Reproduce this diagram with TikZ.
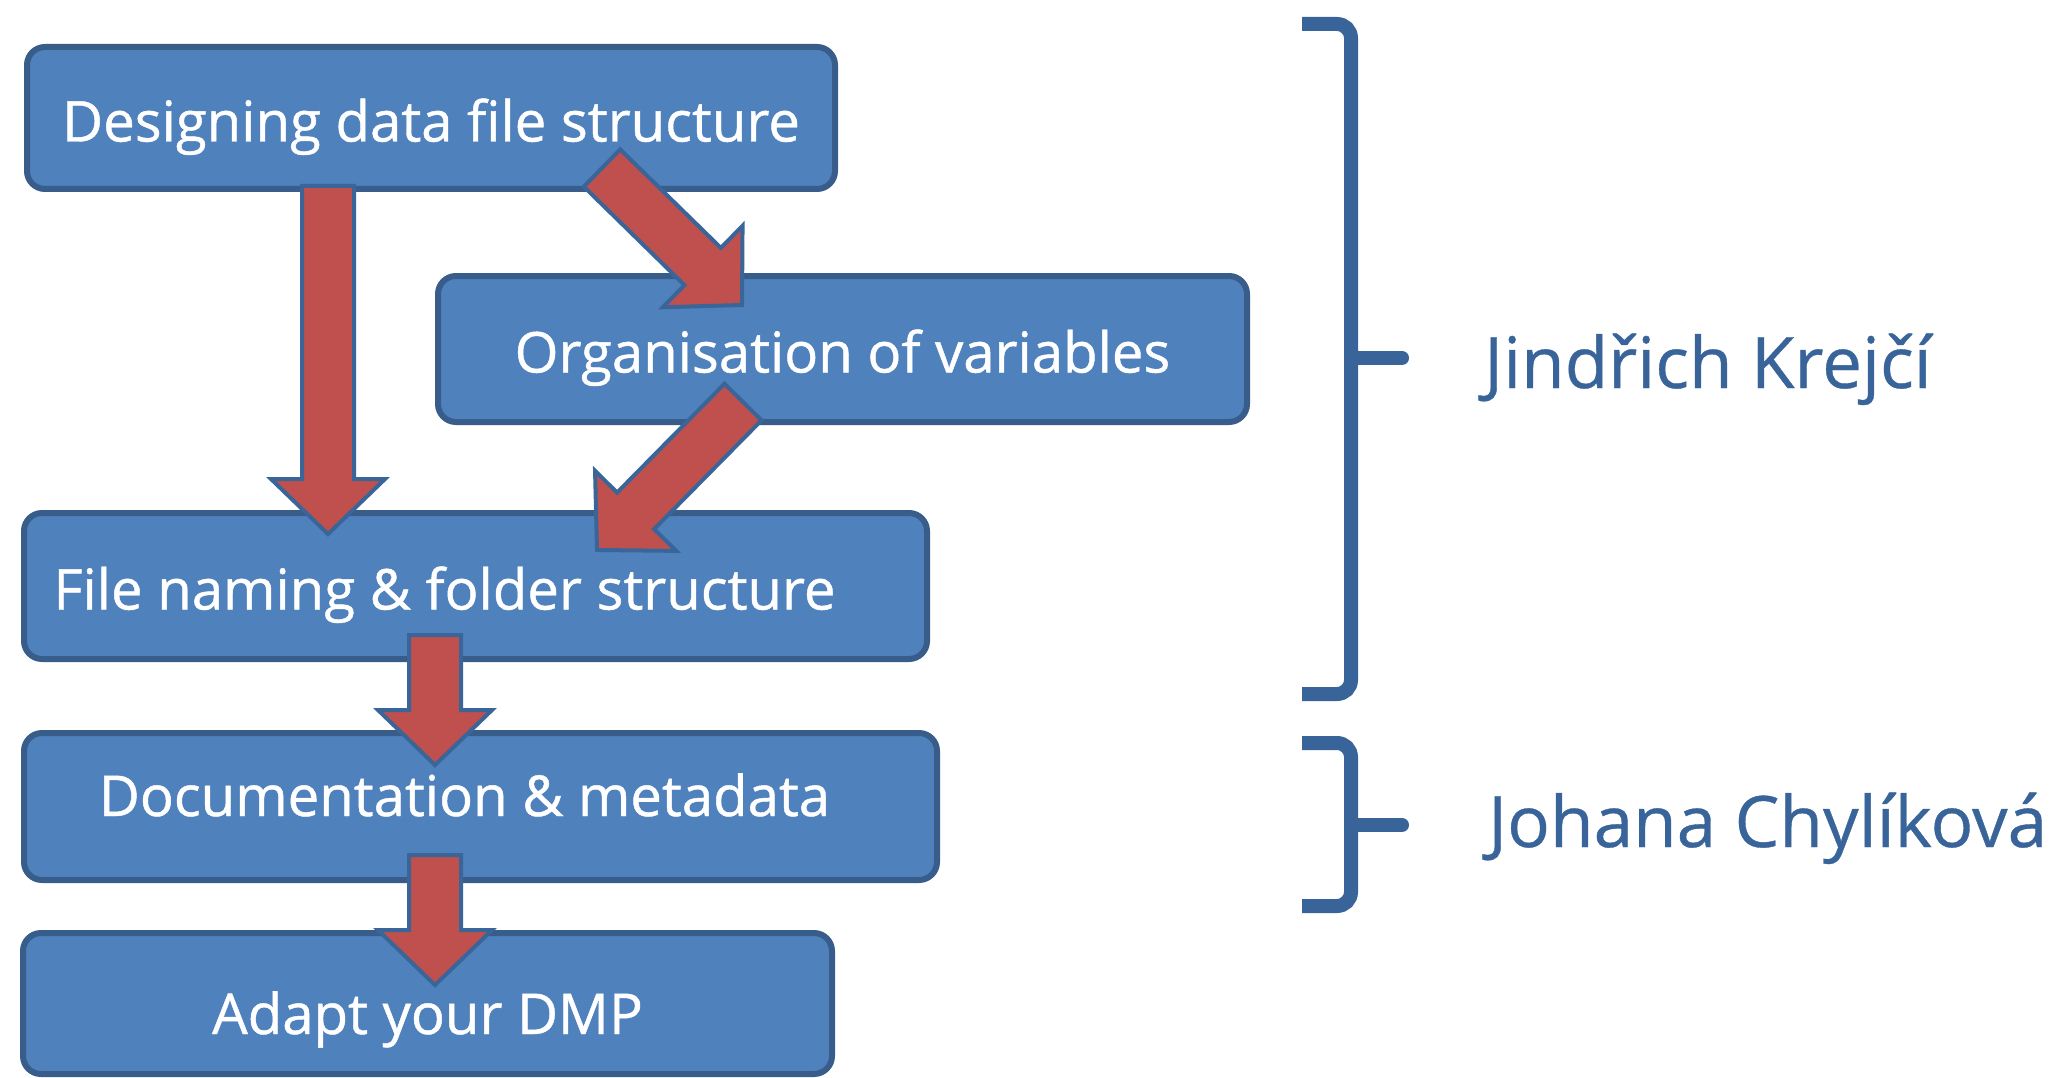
\documentclass[tikz,border=0pt]{standalone}
\usepackage{fontspec}
\setmainfont{Open Sans}
\newfontfamily\stepfont[FakeBold=0.8]{Open Sans}
\newfontfamily\personfont[FakeBold=0.5]{Open Sans}
\usetikzlibrary{calc}

\definecolor{boxfill}{HTML}{4F81BD}
\definecolor{boxline}{HTML}{385D8A}
\definecolor{arrowfill}{HTML}{C0504D}
\definecolor{arrowline}{HTML}{3A6599}
\definecolor{namecol}{HTML}{38649A}

\tikzset{
  box/.style={draw=boxline, fill=boxfill, line width=6pt, rounded corners=18pt,
    text=white, font=\stepfont\fontsize{56.3}{66}\selectfont, inner sep=0pt,
    text height=50pt, text depth=3pt},
  flowarrow/.style={draw=arrowline, fill=arrowfill, line width=4pt},
  brace/.style={draw=namecol, line width=14pt, rounded corners=14pt},
  person/.style={text=namecol, font=\personfont\fontsize{71}{85}\selectfont, inner sep=0pt},
  textshift/.style={execute at begin node={\hspace*{#1}}}
}

% block arrow from #1 to its tip #2
\newcommand{\blockarrow}[2]{%
  \draw[flowarrow] let \p1=(#1), \p2=(#2),
      \n1={atan2(\y2-\y1,\x2-\x1)}, \n2={veclen(\x2-\x1,\y2-\y1)} in
    [shift={(\p1)}, rotate=\n1] (0,-26) -- ({\n2-55},-26) -- ({\n2-55},-57)
    -- (\n2,0) -- ({\n2-55},57) -- ({\n2-55},26) -- (0,26) -- cycle;}

\begin{document}
\begin{tikzpicture}[x=1pt, y=-1pt]
  \path[use as bounding box, fill=white] (0,0) rectangle (2059,1078);

  % steps
  \node[box, minimum width=808pt, minimum height=142pt] (design) at (431,118) {Designing data file structure};
  \node[box, minimum width=809pt, minimum height=146pt] (organise) at (842.5,349) {Organisation of variables};
  \node[box, minimum width=903pt, minimum height=146pt, textshift=-62pt] (naming) at (475.5,586) {File naming \& folder structure};
  \node[box, minimum width=913pt, minimum height=147pt, textshift=-32pt,
        text height=32pt, text depth=13pt] (docu) at (480.5,806.5) {Documentation \& metadata};
  \node[box, minimum width=809pt, minimum height=141pt,
        text height=64pt, text depth=3pt] (adapt) at (427.5,1003.5) {Adapt your DMP};

  % arrows between the steps
  \blockarrow{$(design)+(-103,68)$}{$(naming)+(-147.5,-52)$}
  \blockarrow{$(design)+(171,50)$}{$(organise)+(-100.5,-44)$}
  \blockarrow{$(organise)+(-99.5,53)$}{$(naming)+(121.5,-36)$}
  \blockarrow{$(naming)+(-40.5,49)$}{$(docu)+(-45.5,-41.5)$}
  \blockarrow{$(docu)+(-45.5,48.5)$}{$(adapt)+(7.5,-18.5)$}

  % who teaches what
  \draw[brace] (1302,24) -- (1351,24) -- (1351,694) -- (1302,694);
  \draw[brace, line cap=round] (1351,358) -- (1402,358);
  \node[person, anchor=base west] (krejci) at (1484,388) {Jindřich Krejčí};

  \draw[brace] (1302,743) -- (1351,743) -- (1351,906) -- (1302,906);
  \draw[brace, line cap=round] (1351,825) -- (1402,825);
  \node[person, anchor=base west] (chylikova) at (1488,847) {Johana Chylíková};
\end{tikzpicture}
\end{document}
